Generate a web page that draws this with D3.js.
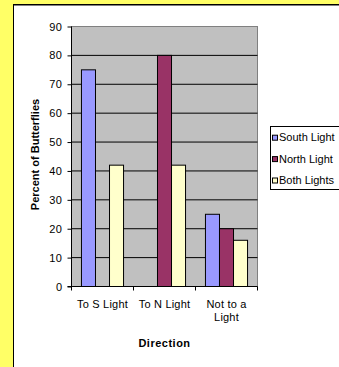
<!DOCTYPE html>
<html>
<head>
<meta charset="utf-8">
<script src="https://cdn.jsdelivr.net/npm/d3@7"></script>
<style>
  html, body { margin: 0; padding: 0; background: #ffff66; overflow: hidden; }
  svg { display: block; }
  text { font-family: "Liberation Sans", Arial, sans-serif; fill: #000; }
</style>
</head>
<body>
<svg id="chart" width="339" height="367"></svg>
<script>
const categories = ["To S Light", "To N Light", "Not to a Light"];
const categoryLines = [["To S Light"], ["To N Light"], ["Not to a", "Light"]];
const seriesNames = ["South Light", "North Light", "Both Lights"];
const southValues = [75, 0, 25];
const northValues = [0, 80, 20];
const bothValues = [42, 42, 16];
const seriesColors = ["#9999ff", "#993366", "#ffffcc"];
const yTicks = [0, 10, 20, 30, 40, 50, 60, 70, 80, 90];
const yTitle = "Percent of Butterflies";
const xTitle = "Direction";

const seriesValues = [southValues, northValues, bothValues];
const rows = categories.map((c, ci) => ({
  category: c,
  values: seriesNames.map((s, si) => ({ series: s, value: seriesValues[si][ci], color: seriesColors[si] }))
}));

const svg = d3.select("#chart");

// chart area (white, with border)
svg.append("rect").attr("x", 13.5).attr("y", 4.5).attr("width", 400).attr("height", 400)
  .attr("fill", "#ffffff").attr("stroke", "#000").attr("stroke-width", 1);
svg.append("line").attr("x1", 14).attr("x2", 339).attr("y1", 5.5).attr("y2", 5.5)
  .attr("stroke", "#808080").attr("stroke-width", 1);

const plot = { left: 71.5, right: 257.5, top: 26.5, bottom: 286.5 };

const x0 = d3.scaleBand().domain(categories).range([plot.left, plot.right]).padding(0);
const x1 = d3.scaleBand().domain(seriesNames).range([0, x0.bandwidth()]).paddingInner(0).paddingOuter(0.71);
const y = d3.scaleLinear().domain([0, 90]).range([plot.bottom, plot.top]);

// plot area
svg.append("rect").attr("x", plot.left).attr("y", plot.top)
  .attr("width", plot.right - plot.left).attr("height", plot.bottom - plot.top)
  .attr("fill", "#c0c0c0").attr("stroke", "#808080").attr("stroke-width", 1);

// gridlines
svg.append("g").selectAll("line").data(yTicks.filter(t => t > 0 && t < 90)).join("line")
  .attr("x1", plot.left).attr("x2", plot.right)
  .attr("y1", d => y(d)).attr("y2", d => y(d))
  .attr("stroke", "#000").attr("stroke-width", 1);

// bars
const groups = svg.append("g").selectAll("g").data(rows).join("g")
  .attr("transform", d => `translate(${x0(d.category)},0)`);
groups.selectAll("rect").data(d => d.values.filter(v => v.value > 0)).join("rect")
  .attr("x", d => x1(d.series))
  .attr("y", d => y(d.value))
  .attr("width", x1.bandwidth())
  .attr("height", d => y(0) - y(d.value))
  .attr("fill", d => d.color)
  .attr("stroke", "#000").attr("stroke-width", 1);

// y axis
const yAxis = svg.append("g").attr("transform", `translate(${plot.left},0)`)
  .call(d3.axisLeft(y).tickValues(yTicks).tickSize(4).tickPadding(5).tickFormat(d3.format("d")));
yAxis.select(".domain").attr("stroke", "#000").attr("d", `M0,${plot.top}V${plot.bottom}`);
yAxis.selectAll(".tick line").attr("stroke", "#000");
yAxis.selectAll("text").attr("font-size", 11).attr("font-family", "Liberation Sans, Arial, sans-serif")
  .attr("letter-spacing", 0.5).attr("fill", "#000");

// x axis line
svg.append("line").attr("x1", plot.left - 4).attr("x2", plot.right)
  .attr("y1", plot.bottom).attr("y2", plot.bottom).attr("stroke", "#000");
const boundaries = categories.map(c => x0(c)).concat([x0(categories[categories.length - 1]) + x0.step()]);
svg.append("g").selectAll("line").data(boundaries).join("line")
  .attr("x1", d => d).attr("x2", d => d)
  .attr("y1", plot.bottom).attr("y2", plot.bottom + 4).attr("stroke", "#000");

// x labels
svg.append("g").selectAll("text").data(categories).join("text")
  .attr("x", d => x0(d) + x0.bandwidth() / 2)
  .attr("y", 308)
  .attr("text-anchor", "middle").attr("font-size", 11).attr("letter-spacing", 0.2)
  .each(function (d, i) {
    d3.select(this).selectAll("tspan").data(categoryLines[i]).join("tspan")
      .attr("x", x0(d) + x0.bandwidth() / 2)
      .attr("dy", (t, j) => j === 0 ? 0 : 13)
      .text(t => t);
  });

// axis titles
svg.append("text").attr("x", (plot.left + plot.right) / 2).attr("y", 346.5)
  .attr("text-anchor", "middle").attr("font-size", 11).attr("font-weight", "bold")
  .attr("letter-spacing", 0.5).text(xTitle);
svg.append("text")
  .attr("transform", `translate(39,${(plot.top + plot.bottom) / 2 - 2}) rotate(-90)`)
  .attr("text-anchor", "middle").attr("font-size", 11).attr("font-weight", "bold")
  .text(yTitle);

// legend
const legend = svg.append("g");
legend.append("rect").attr("x", 270.5).attr("y", 126.5).attr("width", 100).attr("height", 63)
  .attr("fill", "#fff").attr("stroke", "#000").attr("stroke-width", 1);
const li = legend.selectAll("g").data(seriesNames).join("g")
  .attr("transform", (d, i) => `translate(0,${137.7 + i * 21.4})`);
li.append("rect").attr("x", 272.5).attr("y", -2.5).attr("width", 5).attr("height", 5)
  .attr("fill", (d, i) => seriesColors[i]).attr("stroke", "#000").attr("stroke-width", 1);
li.append("text").attr("x", 279).attr("y", 3.6).attr("font-size", 11)
  .text(d => d);
</script>
</body>
</html>
